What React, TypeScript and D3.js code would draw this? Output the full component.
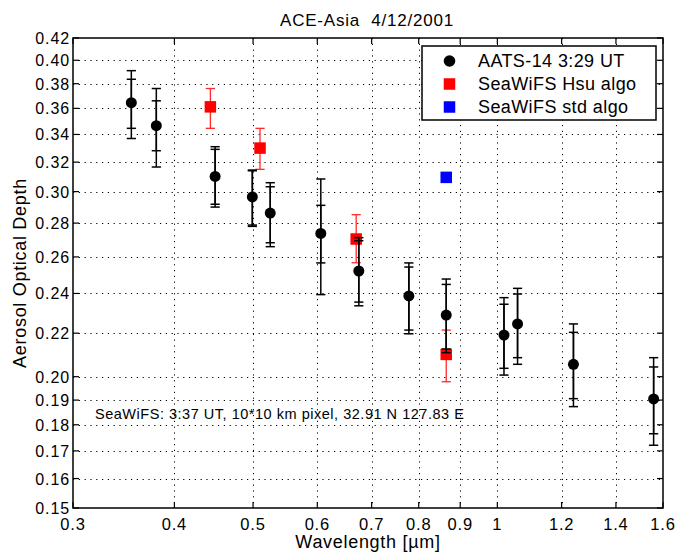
import React from 'react';
import * as d3 from 'd3';

// AATS-14 sunphotometer (black)
const aatsWavelength = [0.354, 0.380, 0.449, 0.499, 0.525, 0.606, 0.675, 0.778, 0.865, 1.019, 1.059, 1.241, 1.558];
const aatsAod = [0.3645, 0.3466, 0.3101, 0.2965, 0.2862, 0.2737, 0.2521, 0.2387, 0.2289, 0.2191, 0.2245, 0.2055, 0.1905];
const aatsOuterHigh = [0.391, 0.376, 0.331, 0.3145, 0.3059, 0.3084, 0.2712, 0.2566, 0.2477, 0.2378, 0.2427, 0.2245, 0.2085];
const aatsInnerHigh = [0.3837, 0.366, 0.3291, 0.3140, 0.3032, 0.2911, 0.2694, 0.2543, 0.2448, 0.2344, 0.2397, 0.2204, 0.2043];
const aatsInnerLow = [0.3446, 0.3281, 0.2918, 0.2788, 0.2682, 0.2566, 0.2355, 0.2215, 0.2125, 0.2037, 0.2085, 0.1906, 0.1765];
const aatsOuterLow = [0.337, 0.3166, 0.290, 0.278, 0.2659, 0.2394, 0.2336, 0.2197, 0.2108, 0.2007, 0.2055, 0.1873, 0.1721];

// SeaWiFS Hsu algorithm (red)
const hsuWavelength = [0.443, 0.510, 0.670, 0.865];
const hsuAod = [0.3612, 0.330, 0.2704, 0.210];
const hsuLow = [0.3446, 0.315, 0.2567, 0.1978];
const hsuHigh = [0.376, 0.3446, 0.2852, 0.2215];

// SeaWiFS standard algorithm (blue)
const stdWavelength = [0.865];
const stdAod = [0.3095];

const xTicks = [0.3, 0.4, 0.5, 0.6, 0.7, 0.8, 0.9, 1, 1.2, 1.4, 1.6];
const xTickLabels = ['0.3', '0.4', '0.5', '0.6', '0.7', '0.8', '0.9', '1', '1.2', '1.4', '1.6'];
const yTicks = [0.15, 0.16, 0.17, 0.18, 0.19, 0.20, 0.22, 0.24, 0.26, 0.28, 0.30, 0.32, 0.34, 0.36, 0.38, 0.40, 0.42];
const yTickLabels = ['0.15', '0.16', '0.17', '0.18', '0.19', '0.20', '0.22', '0.24', '0.26', '0.28', '0.30', '0.32', '0.34', '0.36', '0.38', '0.40', '0.42'];

const legendLabels = ['AATS-14 3:29 UT', 'SeaWiFS Hsu algo', 'SeaWiFS std algo'];
const titleText = 'ACE-Asia  4/12/2001';
const xLabel = 'Wavelength [\u00b5m]';
const yLabel = 'Aerosol Optical Depth';
const noteText = 'SeaWiFS: 3:37 UT, 10*10 km pixel, 32.91 N 127.83 E';

const FONT = '"Liberation Sans", Arial, Helvetica, sans-serif';

export default function App() {
  const W = 689, H = 557;
  const L = 73, R = 663, T = 38, B = 508;
  const x = d3.scaleLog().domain([0.3, 1.6]).range([L, R]);
  const y = d3.scaleLog().domain([0.15, 0.42]).range([B, T]);
  const cap = 4.6;
  const tickLen = 6;

  const errBar = (key: string, cx: number, lo: number, hi: number, color: string, sw: number) => (
    <g key={key} stroke={color} strokeWidth={sw} fill="none">
      <line x1={cx} x2={cx} y1={y(lo)} y2={y(hi)} />
      <line x1={cx - cap} x2={cx + cap} y1={y(lo)} y2={y(lo)} />
      <line x1={cx - cap} x2={cx + cap} y1={y(hi)} y2={y(hi)} />
    </g>
  );

  const sq = 11.5;

  return (
    <svg width={W} height={H} style={{ position: 'absolute', left: 0, top: 0, background: '#fff' }} fontFamily={FONT}>
      <rect x={0} y={0} width={W} height={H} fill="#fff" />
      {/* grid */}
      <g stroke="#000" strokeWidth={1} strokeDasharray="1.2,4.6">
        {xTicks.slice(1, -1).map((t) => (
          <line key={'gx' + t} x1={Math.round(x(t)) + 0.5} x2={Math.round(x(t)) + 0.5} y1={T} y2={B} />
        ))}
        {yTicks.slice(1, -1).map((t) => (
          <line key={'gy' + t} x1={L} x2={R} y1={Math.round(y(t)) + 0.5} y2={Math.round(y(t)) + 0.5} />
        ))}
      </g>

      {/* red error bars and squares */}
      {hsuWavelength.map((w, i) => errBar('he' + i, x(w), hsuLow[i], hsuHigh[i], '#ff2a2a', 1.3))}
      {hsuWavelength.map((w, i) => (
        <rect key={'hs' + i} x={x(w) - sq / 2} y={y(hsuAod[i]) - sq / 2} width={sq} height={sq} fill="#ff0000" />
      ))}
      {stdWavelength.map((w, i) => (
        <rect key={'bs' + i} x={x(w) - sq / 2} y={y(stdAod[i]) - sq / 2} width={sq} height={sq} fill="#0000ff" />
      ))}

      {/* black error bars */}
      {aatsWavelength.map((w, i) => errBar('ao' + i, x(w), aatsOuterLow[i], aatsOuterHigh[i], '#000', 1.5))}
      {aatsWavelength.map((w, i) => errBar('ai' + i, x(w), aatsInnerLow[i], aatsInnerHigh[i], '#000', 1.5))}
      {aatsWavelength.map((w, i) => (
        <circle key={'ad' + i} cx={x(w)} cy={y(aatsAod[i])} r={5.5} fill="#000" />
      ))}

      {/* axes box */}
      <rect x={L} y={T} width={R - L} height={B - T} fill="none" stroke="#000" strokeWidth={1.5} />
      <g stroke="#000" strokeWidth={1.2}>
        {xTicks.map((t) => (
          <g key={'tx' + t}>
            <line x1={x(t)} x2={x(t)} y1={B} y2={B - tickLen} />
            <line x1={x(t)} x2={x(t)} y1={T} y2={T + tickLen} />
          </g>
        ))}
        {yTicks.map((t) => (
          <g key={'ty' + t}>
            <line x1={L} x2={L + tickLen} y1={y(t)} y2={y(t)} />
            <line x1={R} x2={R - tickLen} y1={y(t)} y2={y(t)} />
          </g>
        ))}
      </g>

      {/* tick labels */}
      <g fontSize={16.5} fill="#000" letterSpacing={0.8}>
        {xTicks.map((t, i) => (
          <text key={'lx' + t} x={x(t)} y={B + 22} textAnchor="middle">{xTickLabels[i]}</text>
        ))}
      </g>
      <g fontSize={16} fill="#000" letterSpacing={0.9}>
        {yTicks.map((t, i) => (
          <text key={'ly' + t} x={L - 3} y={y(t) + 6} textAnchor="end">{yTickLabels[i]}</text>
        ))}
      </g>

      {/* title & axis labels */}
      <text x={367} y={26} textAnchor="middle" fontSize={17} letterSpacing={0.8} style={{ whiteSpace: 'pre' }}>{titleText}</text>
      <text x={(L + R) / 2} y={548} textAnchor="middle" fontSize={18} letterSpacing={0.7}>{xLabel}</text>
      <text transform={`translate(26,${(T + B) / 2}) rotate(-90)`} textAnchor="middle" fontSize={18} letterSpacing={0.7}>{yLabel}</text>

      {/* annotation */}
      <text x={95} y={419} fontSize={14.5} letterSpacing={0.52}>{noteText}</text>

      {/* legend */}
      <g>
        <rect x={422} y={46} width={234} height={74} fill="#fff" stroke="#000" strokeWidth={1.5} />
        <circle cx={449.5} cy={61} r={5.8} fill="#000" />
        <rect x={449.5 - sq / 2} y={84 - sq / 2} width={sq} height={sq} fill="#ff0000" />
        <rect x={449.5 - sq / 2} y={107 - sq / 2} width={sq} height={sq} fill="#0000ff" />
        {legendLabels.map((s, i) => (
          <text key={'lg' + i} x={478} y={67 + i * 23} fontSize={18} letterSpacing={0.4}>{s}</text>
        ))}
      </g>
    </svg>
  );
}
